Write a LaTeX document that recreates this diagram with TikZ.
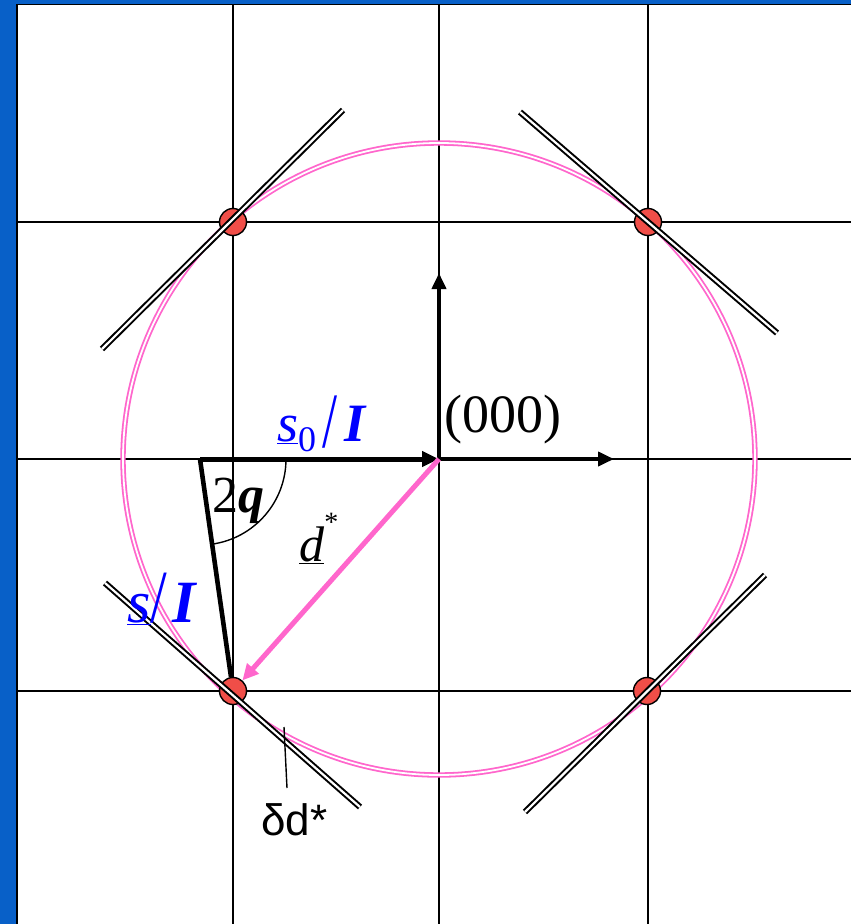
\documentclass[tikz,border=0pt]{standalone}
\usepackage{fontspec}
\setmainfont{Liberation Serif}
\newfontfamily\sansf{Liberation Sans}
\usetikzlibrary{arrows.meta}
\definecolor{bgblue}{RGB}{8,96,200}
\definecolor{dotred}{RGB}{240,78,72}
\definecolor{pinkc}{RGB}{255,102,204}
\definecolor{txtblue}{RGB}{0,0,255}
\tikzset{
  gridline/.style={black, line width=1.8pt},
  ewald/.style={pinkc, line width=1.8pt, double=white, double distance=1.8pt},
  tangent/.style={black, line width=2pt, double=white, double distance=2.2pt},
  latpt/.style={circle, draw=black, line width=1.4pt, fill=dotred, minimum size=27pt, inner sep=0pt},
  axisarrow/.style={black, line width=3.8pt, -{Triangle[length=16pt,width=14pt]}},
  lbl/.style={inner sep=0pt, anchor=base west},
}
\begin{document}
\begin{tikzpicture}[x=1pt,y=-1pt]
\useasboundingbox (0,0) rectangle (851,924);
\fill[bgblue] (0,0) rectangle (851,924);
\fill[white] (17,4.5) rectangle (851,924);
\draw[black, line width=1.8pt] (17,924) -- (17,4.5) -- (851,4.5);
% grid
\foreach \yy in {222,459,691} \draw[gridline] (17,\yy) -- (851,\yy);
\foreach \xx in {233,439,648} \draw[gridline] (\xx,4.5) -- (\xx,924);
% Ewald circle
\coordinate (O) at (439,459);
\coordinate (S) at (200,459);
\draw[ewald] (O) circle[radius=316pt];
% lattice points
\node[latpt] (g1) at (233,222) {};
\node[latpt] (g2) at (648,222) {};
\node[latpt] (g3) at (233,691) {};
\node[latpt] (g4) at (647,691) {};
% tangent planes
\coordinate (t1a) at (102,349); \coordinate (t1b) at (343,110);
\coordinate (t2a) at (520,112); \coordinate (t2b) at (777,333);
\coordinate (t3a) at (105,583); \coordinate (t3b) at (360,807);
\coordinate (t4a) at (525,812); \coordinate (t4b) at (765,575);
\draw[tangent] (t1a) -- (t1b);
\draw[tangent] (t2a) -- (t2b);
\draw[tangent] (t3a) -- (t3b);
\draw[tangent] (t4a) -- (t4b);
% axes at origin
\coordinate (ax1) at (439,273);
\coordinate (ax2) at (614,459);
\draw[axisarrow] (O) -- (ax1);
\draw[axisarrow] (O) -- (ax2);
% incident and diffracted beams
\draw[black, line width=5pt, -{Triangle[length=17pt,width=15pt]}] (S) -- (O);
\draw[black, line width=4.6pt] (S) -- (g3);
\draw[pinkc, line width=5pt, -{Triangle[length=16pt,width=15pt]}] (O) -- (g3);
% angle arc
\draw[black, line width=1.4pt] (286,459) arc[start angle=0, end angle=-81.9, radius=86pt];
% labels
\node[lbl] (t000) at (444,432) {\fontsize{54}{54}\selectfont (000)};
\node[lbl, txtblue] (ts0) at (277,441) {\fontsize{54}{54}\selectfont\underline{\textit{s}}\raisebox{-0.2em}{\fontsize{36}{36}\selectfont 0}\hspace{6pt}\raisebox{-0.12em}{\scalebox{1}[1.45]{/}}\hspace{7pt}\textbf{\textit{I}}};
\node[lbl] (t2q) at (212,512) {\fontsize{52}{52}\selectfont 2\textbf{\textit{q}}};
\node[lbl] (td) at (299,561) {\fontsize{50}{50}\selectfont\underline{\textit{d}}\raisebox{0.6em}{\fontsize{28}{28}\selectfont *}};
\node[lbl, txtblue] (ts) at (127,622) {\fontsize{60}{60}\selectfont\underline{\textit{s}}\scalebox{1}[1.25]{/}\hspace{5pt}\textbf{\textit{I}}};
\node[lbl] (tdd) at (261,835) {\sansf\fontsize{44}{44}\selectfont δd*};
\coordinate (p1) at (284,727);
\draw[black, line width=1.4pt] (p1) -- (287,788);
\end{tikzpicture}
\end{document}
